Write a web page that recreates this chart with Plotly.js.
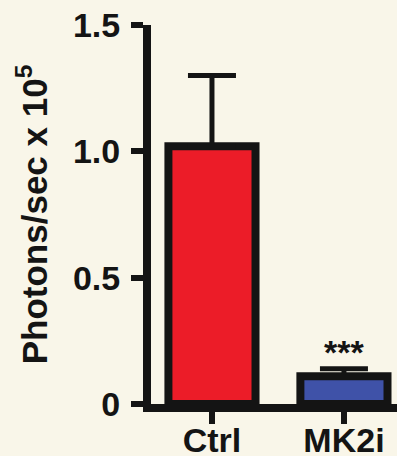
<!DOCTYPE html>
<html>
<head>
<meta charset="utf-8">
<script src="https://cdn.plot.ly/plotly-3.0.1.min.js"></script>
<style>html,body{margin:0;padding:0;background:#f9f6e9;}</style>
</head>
<body>
<div id="chart" style="width:397px;height:456px;"></div>
<script>
const categories = ['Ctrl', 'MK2i'];
const means = [1.02, 0.11];
const errors = [0.28, 0.03];
const barColors = ['#ec1c28', '#3f52a8'];
const yTickVals = [0, 0.5, 1.0, 1.5];
const yTickText = ['0', '0.5', '1.0', '1.5'];
const sigLabel = '***';

const ink = '#141414';
const font = {family: '"Liberation Sans", Arial, sans-serif', size: 34, color: ink, weight: 700};

const trace = {
  type: 'bar',
  x: categories,
  y: means,
  width: 0.66,
  marker: {color: barColors, line: {color: ink, width: 8}},
  error_y: {type: 'data', array: errors, arrayminus: errors.map(() => 0), symmetric: false,
            color: ink, thickness: 5, width: 24},
  hoverinfo: 'none'
};

const layout = {
  width: 397, height: 456,
  margin: {l: 151, r: 0, t: 25, b: 52},
  paper_bgcolor: '#f9f6e9',
  plot_bgcolor: '#f9f6e9',
  font: font,
  showlegend: false,
  xaxis: {
    type: 'category', range: [-0.462, 1.402],
    showline: true, linecolor: ink, linewidth: 8,
    ticks: 'outside', ticklen: 12, tickwidth: 6, tickcolor: ink,
    ticklabelstandoff: -13,
    tickfont: font, showgrid: false, zeroline: false, fixedrange: true
  },
  yaxis: {
    range: [0, 1.5],
    tickvals: yTickVals, ticktext: yTickText,
    showline: true, linecolor: ink, linewidth: 8,
    ticks: 'outside', ticklen: 12, tickwidth: 6, tickcolor: ink,
    ticklabelstandoff: 4,
    tickfont: font, showgrid: false, zeroline: false, fixedrange: true,
    title: {text: 'Photons/sec x 10<sup>5</sup>', font: Object.assign({}, font, {size: 35}), standoff: 18}
  },
  annotations: [{
    x: categories[1], y: means[1] + errors[1], xref: 'x', yref: 'y',
    text: sigLabel, showarrow: false, yanchor: 'bottom', yshift: -4,
    font: {family: font.family, size: 34, color: ink, weight: 700}
  }]
};

Plotly.newPlot('chart', [trace], layout, {displayModeBar: false, staticPlot: true});
</script>
</body>
</html>
